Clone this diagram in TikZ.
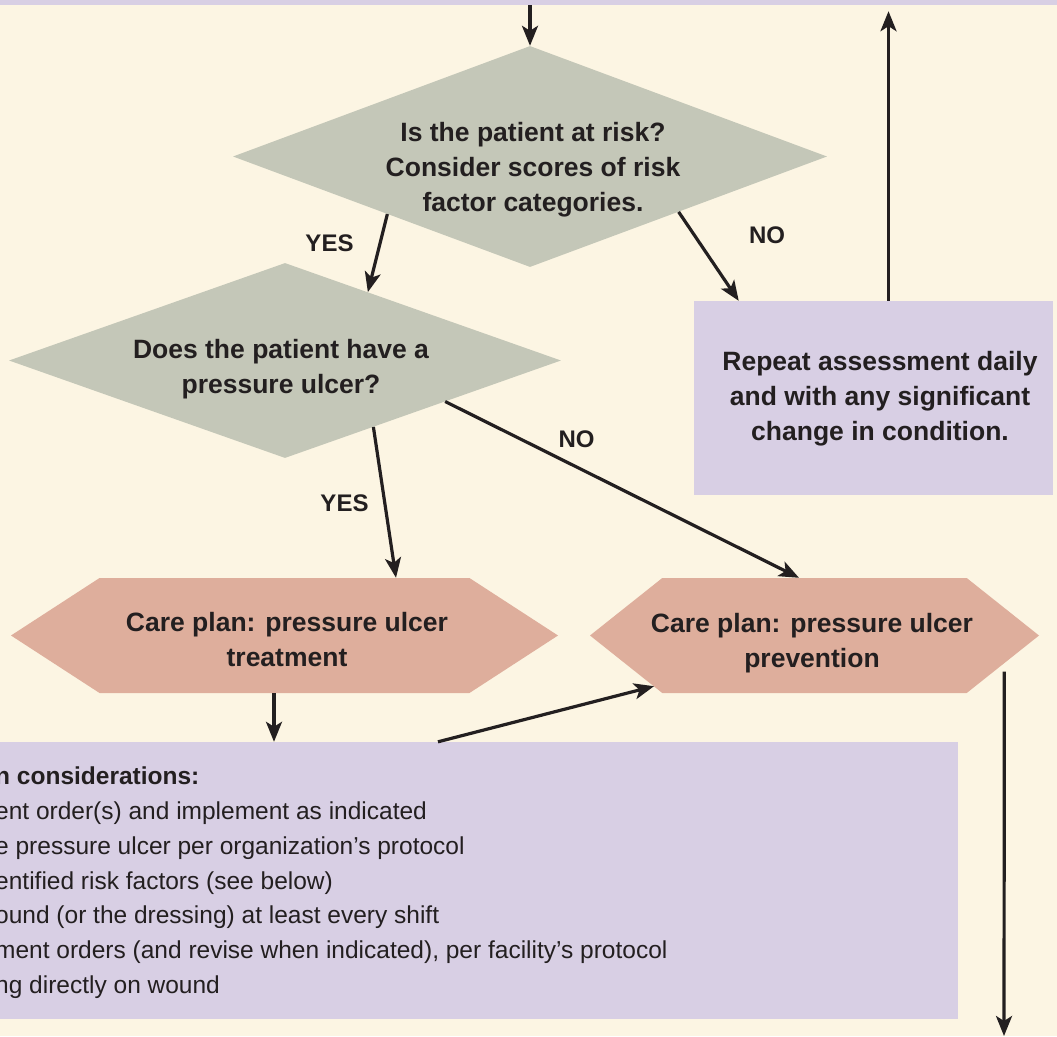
\documentclass[tikz,border=0pt]{standalone}
\usepackage{fontspec}
\setmainfont{Liberation Sans}
\usepackage{xcolor}
\usetikzlibrary{arrows.meta, shapes.geometric, shapes.symbols, positioning, calc}

\definecolor{cream}{HTML}{FCF5E3}
\definecolor{lilac}{HTML}{D8CFE4}
\definecolor{sage}{HTML}{C4C7B8}
\definecolor{salmon}{HTML}{DEAE9C}
\definecolor{ink}{HTML}{231F20}

\begin{document}
\begin{tikzpicture}[x=1pt, y=-1pt, >={Stealth[length=20pt, width=16pt, inset=5pt]},
  every node/.style={text=ink},
  question/.style={diamond, fill=sage, inner sep=0pt},
  plan/.style={signal, signal to=west and east, fill=salmon, inner sep=0pt},
  panel/.style={rectangle, fill=lilac, inner sep=0pt},
  caption/.style={font=\bfseries\fontsize{26.5}{35}\selectfont, align=center, inner sep=0pt},
  answer/.style={font=\bfseries\fontsize{24}{24}\selectfont, inner sep=0pt, anchor=base},
  flow/.style={->, line width=3.2pt, draw=ink}]

\useasboundingbox (0,0) rectangle (1057,1036);
\fill[cream] (0,0) rectangle (1057,1036);
\clip (0,0) rectangle (1057,1036);

% shapes
\node[panel, minimum width=1100pt, minimum height=50pt] (top) at (528.5,-20) {};
\node[question, minimum width=594pt, minimum height=221pt] (risk) at (530,156.5) {};
\node[question, minimum width=552pt, minimum height=195pt] (ulcer) at (285,360.5) {};
\node[panel, minimum width=359pt, minimum height=194pt] (repeat) at (873.5,398) {};
\node[plan, minimum width=547pt, minimum height=115pt, signal pointer angle=66] (treat) at (284.5,635.5) {};
\node[plan, minimum width=449pt, minimum height=115pt, signal pointer angle=77] (prevent) at (814.5,635.5) {};
\node[panel, minimum width=978pt, minimum height=277pt] (careplan) at (469,880.5) {};

% texts
\node[caption] (risktext) at (533,170) {Is the patient at risk?\\Consider scores of risk\\factor categories.};
\node[caption] (ulcertext) at (281,368.75) {Does the patient have a\\pressure ulcer?};
\node[caption] (repeattext) at (880,399) {Repeat assessment daily\\and with any significant\\change in condition.};
\node[caption] (treattext) at (287,640) {Care plan: pressure ulcer\\treatment};
\node[caption] (preventtext) at (812,642.75) {Care plan: pressure ulcer\\prevention};
\node[font=\fontsize{24.5}{34.7}\selectfont, align=left, inner sep=0pt, anchor=west] (careplantext) at (-5,882.75)
  {\textbf{n considerations:}\\ent order(s) and implement as indicated\\e pressure ulcer per organization's protocol\\entified risk factors (see below)\\ound (or the dressing) at least every shift\\ment orders (and revise when indicated), per facility's protocol\\ng directly on wound};

\node[answer] (yes1) at (329.5,251) {YES};
\node[answer] (no1) at (767,243) {NO};
\node[answer] (yes2) at (344.5,511) {YES};
\node[answer] (no2) at (576.5,447) {NO};

% connectors
\coordinate (back) at ($(repeat.north)+(15,0)$);
\coordinate (down) at ($(treat.south)+(-10.5,0)$);
\coordinate (exit) at (1004,1036);

\draw[flow] (top.south -| risk.north) -- (risk.north);
\draw[flow] ($(risk.south)!0.48!(risk.west)$) -- ($(ulcer.north)!0.3!(ulcer.east)$);
\draw[flow] (risk.south east) -- ($(repeat.north west)!0.125!(repeat.north east)$);
\draw[flow, shorten >=6pt] (back) -- (back |- top.south);
\draw[flow] ($(ulcer.south)!0.32!(ulcer.east)$) -- ($(treat.north)+(111.5,0)$);
\draw[flow] ($(ulcer.south)!0.58!(ulcer.east)$) -- ($(prevent.north)+(-15.5,0)$);
\draw[flow] (down) -- (down |- careplan.north);
\draw[flow] ($(careplan.north)+(-31,0)$) -- ($(prevent.south)+(-160.5,-7)$);
\draw[flow] ($(prevent.east)+(-35,36)$) -- (exit);

\end{tikzpicture}
\end{document}
